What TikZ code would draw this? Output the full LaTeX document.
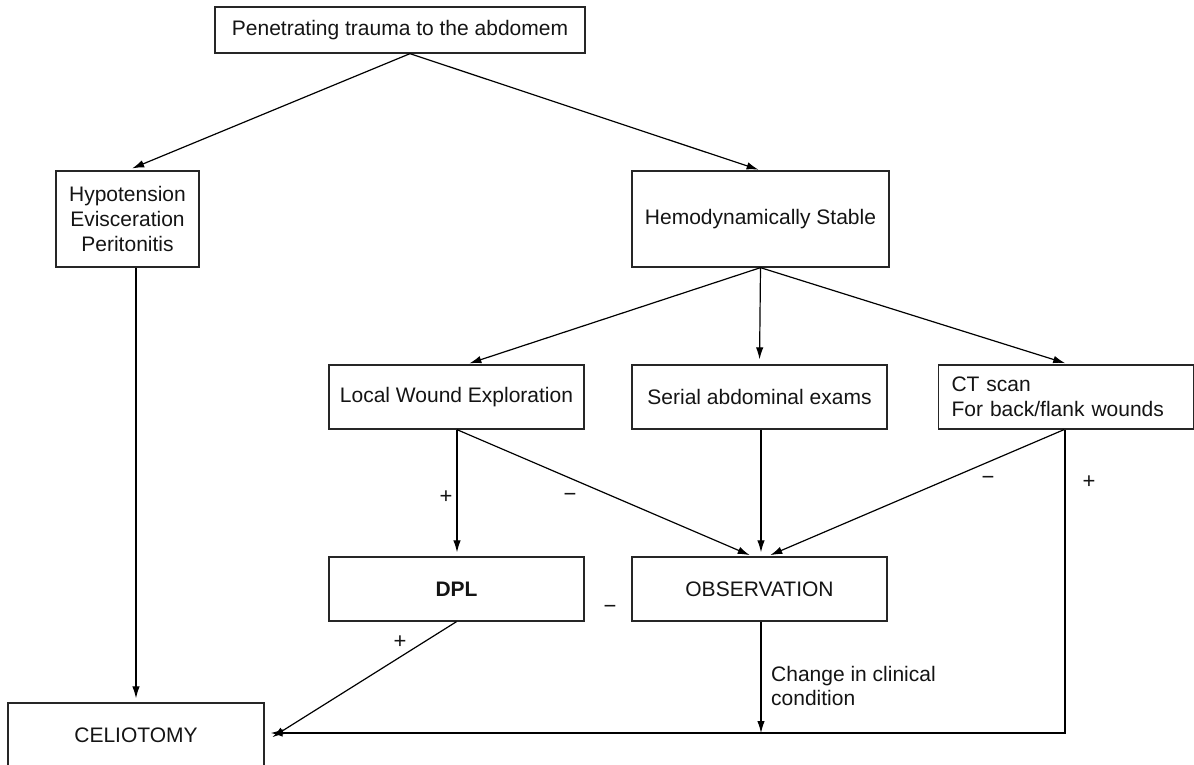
\documentclass[tikz,border=0pt]{standalone}
\usepackage{fontspec}
\setmainfont{Liberation Sans}
\usetikzlibrary{arrows.meta}
\begin{document}
\begin{tikzpicture}[x=1pt,y=-1pt,
  box/.style={draw=black!85, line width=1.3pt, rectangle, inner sep=0pt,
    font=\fontsize{21}{25}\selectfont, align=center, text=black!92},
  wide/.style={minimum width=255pt, minimum height=64pt},
  arr/.style={line width=1.2pt, -{Latex[length=12pt,width=7.5pt]}},
  sign/.style={font=\fontsize{22}{22}\selectfont, inner sep=0pt, text=black!92},
  note/.style={font=\fontsize{21}{24}\selectfont, inner sep=0pt, align=left, text=black!92}]
\useasboundingbox (0,0) rectangle (1194,765);

% boxes
\node[box, minimum width=370pt, minimum height=46pt] (top) at (400,30) {Penetrating trauma to the abdomem};
\node[box, minimum width=143pt, minimum height=96pt] (hypo) at (127.5,219) {Hypotension\\Evisceration\\Peritonitis};
\node[box, minimum width=257pt, minimum height=96pt] (hemo) at (760.5,219) {Hemodynamically Stable};
\node[box, wide] (lwe) at (456.5,397) {Local Wound Exploration};
\node[box, wide] (serial) at (759.5,397) {Serial abdominal exams};
\node[box, wide, align=left, text width=229pt, inner xsep=13pt] (ct) at (1066,397) {CT scan\\For back/flank wounds};
\node[box, wide] (dpl) at (456.5,589) {\bfseries DPL};
\node[box, wide] (obs) at (759.5,589) {OBSERVATION};
\node[box, minimum width=256pt, minimum height=64pt] (celio) at (136,735) {CELIOTOMY};

% connectors
\draw[arr, shorten >=5pt] ([xshift=10pt]top.south) -- (hypo.north);
\draw[arr, shorten >=2pt] ([xshift=10pt]top.south) -- (hemo.north);
\draw[arr, shorten >=4pt] (hypo.south -| celio.north) -- (celio.north);

\draw[arr, shorten >=3pt] (hemo.south) -- ([xshift=10pt]lwe.north);
\draw[arr, shorten >=5pt] (hemo.south) -- (serial.north);
\draw[arr, shorten >=4pt] (hemo.south) -- ([xshift=3pt]ct.north);

\draw[arr, shorten >=4pt] ([xshift=0.5pt]lwe.south) -- ([xshift=0.5pt]dpl.north);
\draw[arr, shorten >=3pt] ([xshift=0.5pt]lwe.south) -- ([xshift=-7pt]obs.north);
\draw[arr, shorten >=4pt] ([xshift=1.5pt]serial.south) -- ([xshift=1.5pt]obs.north);
\draw[arr, shorten >=3pt] ([xshift=-2pt]ct.south) -- ([xshift=8pt]obs.north);

\coordinate (ctdown) at ([xshift=-1pt]ct.south |- 0,733);
\coordinate (obsdown) at ([xshift=1.5pt]obs.south |- 0,733);
\draw[arr, shorten >=6pt] ([xshift=-1pt]ct.south) -- (ctdown) -- (celio.east |- ctdown);
\draw[arr] ([xshift=1.5pt]obs.south) -- (obsdown);
\draw[arr, shorten >=9pt] (dpl.south) -- ([yshift=-7pt]celio.east);

% branch labels
\node[sign] (p1) at (446,497) {+};
\node[sign] (m1) at (570,497) {−};
\node[sign] (m2) at (988,480) {−};
\node[sign] (p2) at (1089,482) {+};
\node[sign] (m3) at (610,609) {−};
\node[sign] (p3) at (400,642) {+};
\node[note, anchor=north west] (chg) at (771,666) {Change in clinical\\condition};
\end{tikzpicture}
\end{document}
